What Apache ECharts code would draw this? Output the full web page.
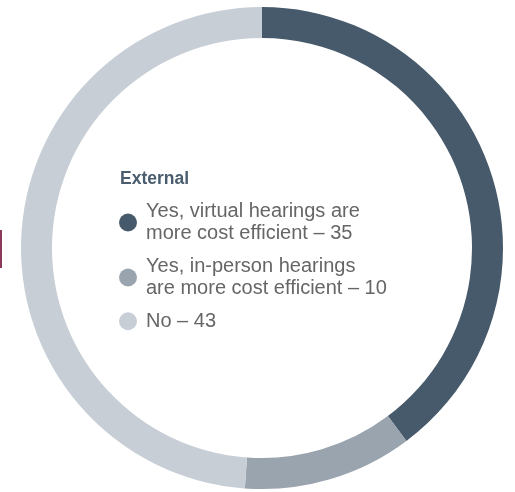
<!DOCTYPE html>
<html>
<head>
<meta charset="utf-8">
<script src="https://cdn.jsdelivr.net/npm/echarts@6/dist/echarts.min.js"></script>
<style>html,body{margin:0;padding:0;background:#fff;}#c{width:515px;height:492px;}</style>
</head>
<body>
<div id="c"></div>
<script>
const title = 'External';
const categories = [
  'Yes, virtual hearings are\nmore cost efficient \u2013 35',
  'Yes, in-person hearings\nare more cost efficient \u2013 10',
  'No \u2013 43'
];
const values = [35, 10, 43];
const colors = ['#475a6b', '#9aa4af', '#c7ced6'];

const chart = echarts.init(document.getElementById('c'), null, {renderer: 'canvas'});
chart.setOption({
  animation: false,
  color: colors,
  title: {
    text: title,
    left: 115, top: 165,
    textStyle: {fontFamily: 'Liberation Sans, Arial, sans-serif', fontSize: 17.5, fontWeight: 'bold', color: '#4a5d6e'}
  },
  legend: {
    orient: 'vertical',
    left: 114, top: 195,
    icon: 'circle',
    itemWidth: 18, itemHeight: 18,
    itemGap: 10,
    selectedMode: false,
    data: categories,
    textStyle: {fontFamily: 'Liberation Sans, Arial, sans-serif', fontSize: 20, lineHeight: 22.5, color: '#666666', padding: [0, 0, 0, 4]}
  },
  graphic: [{
    type: 'rect', shape: {x: 0, y: 230, width: 2, height: 38},
    style: {fill: '#8b3a5e'}
  }],
  series: [{
    type: 'pie',
    center: [262, 248],
    radius: [210, 241],
    startAngle: 90,
    clockwise: true,
    silent: true,
    label: {show: false},
    labelLine: {show: false},
    itemStyle: {borderWidth: 0},
    data: categories.map((n, i) => ({name: n, value: values[i]}))
  }]
});
</script>
</body>
</html>
